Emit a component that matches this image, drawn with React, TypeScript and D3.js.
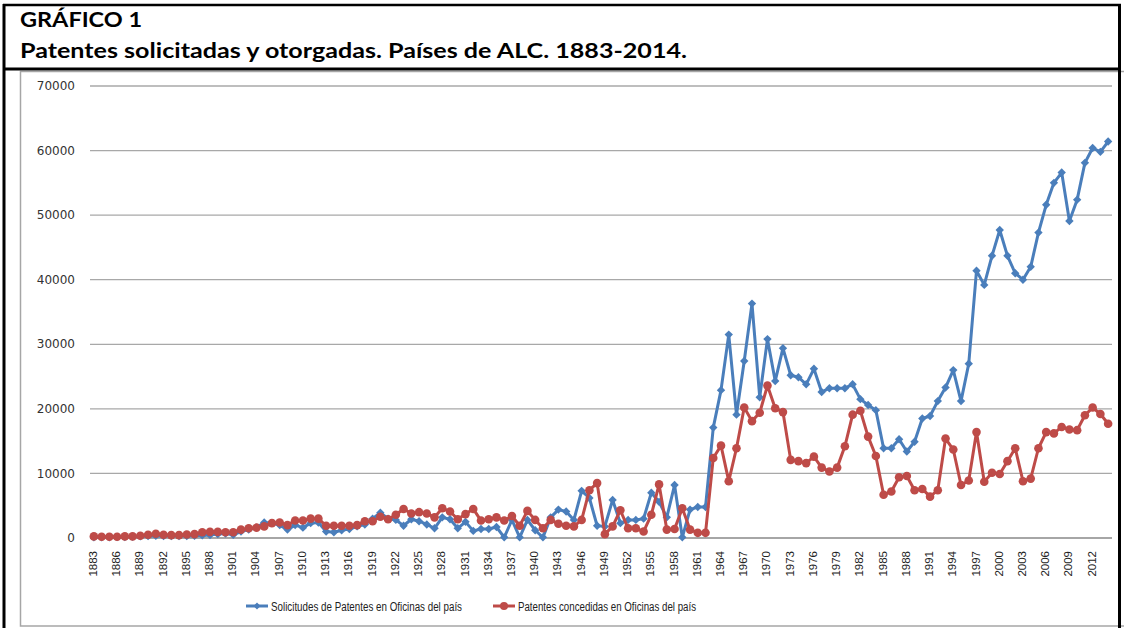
import * as d3 from 'd3'

// categories: one per year, 1883-2014
const years = d3.range(1883, 2015)

// Solicitudes de Patentes en Oficinas del país
const solicitudes = [
  100, 100, 100, 150, 150, 200, 250, 300, 350, 300, 300, 300, 300, 350, 400, 450, 600, 700,
  500, 1000, 1300, 1600, 2400, 2300, 2000, 1300, 2000, 1600, 2300, 2400, 1000, 900, 1200, 1400,
  1800, 2100,
  3000, 3900, 3000, 2800, 1900, 2900, 2600, 2100, 1500, 3200, 2900, 1500, 2500, 1100, 1400, 1400,
  1700, 100, 2800, 100, 2800, 1200, 100, 3200, 4400, 4100, 2800, 7300, 6200, 1900, 1800, 5900,
  2300, 2800, 2800, 3000, 7000, 5600, 3200, 8200, 100, 4400, 4800, 4800,
  17100, 22900, 31500, 19100, 27400, 36300, 21800, 30800, 24300, 29400, 25200, 24900, 23800,
  26200, 22600, 23200, 23200, 23200, 23800, 21500, 20600, 19800, 13900, 13900, 15300, 13400,
  14900, 18500,
  18900, 21200, 23300, 26000, 21200, 27000, 41400, 39200, 43700, 47700, 43700, 41000, 40000,
  42000, 47300, 51600, 55000, 56600, 49100, 52400, 58100, 60400, 59800, 61400,
]

// Patentes concedidas en Oficinas del país
const concedidas = [
  250, 200, 200, 200, 250, 250, 350, 500, 650, 500, 450, 450, 550, 600, 900, 950, 950, 900,
  900, 1300, 1500, 1600, 1800, 2300, 2400, 2000, 2700, 2700, 3000, 3000, 1900, 1900, 1900, 1900,
  2000, 2600,
  2600, 3300, 2900, 3600, 4500, 3800, 4000, 3800, 3200, 4600, 4100, 2900, 3700, 4500, 2700, 2900,
  3200, 2700, 3400, 1900, 4200, 2800, 1500, 2800, 2200, 1900, 1800, 2800, 7400, 8500, 600, 1800,
  4300, 1500, 1500, 1000, 3600, 8300, 1300, 1400, 4600, 1300, 800, 800,
  12400, 14300, 8800, 13900, 20200, 18100, 19400, 23600, 20100, 19500, 12100, 11900, 11600,
  12600, 10900, 10300, 10900, 14200, 19100, 19700, 15700, 12700, 6700, 7200, 9400, 9600, 7400,
  7600,
  6400, 7400, 15400, 13700, 8200, 8900, 16400, 8700, 10100, 9900, 11900, 13900, 8800, 9200,
  13900, 16400, 16200, 17200, 16800, 16700, 19000, 20200, 19200, 17700,
]

const yTicks = [0, 10000, 20000, 30000, 40000, 50000, 60000, 70000]
const xTickYears = years.filter((yr) => (yr - 1883) % 3 === 0)

const BLUE = '#4a7ebb'
const RED = '#be4b48'
const diamond = 'M0,-4.2L4.2,0L0,4.2L-4.2,0Z'

export default function App() {
  const W = 1124
  const H = 628

  const x = d3.scalePoint<number>().domain(years).range([90, 1112]).padding(0.5)
  const y = d3.scaleLinear().domain([0, 70000]).range([538, 86])

  const line = d3
    .line<number>()
    .x((_, i) => x(years[i])!)
    .y((d) => y(d))

  const axisFont = 'DejaVu Sans, sans-serif'

  return (
    <svg
      width={W}
      height={H}
      style={{ position: 'absolute', left: 0, top: 0, background: '#fff' }}
    >
      <rect x={0} y={0} width={W} height={H} fill="#fff" />

      {/* title block */}
      <text
        x={20}
        y={27}
        fontFamily="Lato, sans-serif"
        fontWeight="bold"
        fontSize={21.5}
        textLength={122}
        lengthAdjust="spacingAndGlyphs"
        fill="#000"
      >
        GRÁFICO 1
      </text>
      <text
        x={20}
        y={58}
        fontFamily="Lato, sans-serif"
        fontWeight="bold"
        fontSize={21.5}
        textLength={667}
        lengthAdjust="spacingAndGlyphs"
        fill="#000"
      >
        Patentes solicitadas y otorgadas. Países de ALC. 1883-2014.
      </text>

      {/* chart area frame */}
      <rect x={20.5} y={71.5} width={1120} height={554.5} fill="none" stroke="#a6a6a6" strokeWidth={1.5} />

      {/* gridlines + y labels */}
      {yTicks.map((t) => (
        <g key={t}>
          {t > 0 && (
            <line x1={90} x2={1112} y1={y(t)} y2={y(t)} stroke="#a8a8a8" strokeWidth={1.3} />
          )}
          <text
            x={75}
            y={y(t)}
            dy="0.35em"
            textAnchor="end"
            fontFamily={axisFont}
            fontSize={12}
            fill="#333"
          >
            {t}
          </text>
        </g>
      ))}
      <line x1={90} x2={1112} y1={y(0)} y2={y(0)} stroke="#888" strokeWidth={1.3} />

      {/* x labels */}
      {xTickYears.map((yr) => (
        <text
          key={yr}
          transform={`translate(${x(yr)! + 3},551) rotate(-90)`}
          textAnchor="end"
          fontFamily="Liberation Sans, Arial, sans-serif"
          fontSize={11.5}
          fill="#222"
        >
          {yr}
        </text>
      ))}

      {/* series: solicitudes */}
      <path d={line(solicitudes) ?? ''} fill="none" stroke={BLUE} strokeWidth={3} strokeLinejoin="round" />
      {solicitudes.map((v, i) => (
        <path key={'s' + i} d={diamond} transform={`translate(${x(years[i])},${y(v)})`} fill={BLUE} />
      ))}

      {/* series: concedidas */}
      <path d={line(concedidas) ?? ''} fill="none" stroke={RED} strokeWidth={3} strokeLinejoin="round" />
      {concedidas.map((v, i) => (
        <circle key={'c' + i} cx={x(years[i])} cy={y(v)} r={4.3} fill={RED} />
      ))}

      {/* legend */}
      <g fontFamily="Liberation Sans, Arial, sans-serif" fontSize={12.5} fill="#222">
        <line x1={246} x2={268} y1={606} y2={606} stroke={BLUE} strokeWidth={3} />
        <path d="M0,-3.5L3.5,0L0,3.5L-3.5,0Z" transform="translate(257,606)" fill={BLUE} />
        <text x={271} y={610.5} textLength={191} lengthAdjust="spacingAndGlyphs">
          Solicitudes de Patentes en Oficinas del país
        </text>
        <line x1={493} x2={515} y1={606} y2={606} stroke={RED} strokeWidth={3} />
        <circle cx={504} cy={606} r={4} fill={RED} />
        <text x={518} y={610.5} textLength={178} lengthAdjust="spacingAndGlyphs">
          Patentes concedidas en Oficinas del país
        </text>
      </g>

      {/* outer black frame */}
      <line x1={3} x2={1121} y1={5} y2={5} stroke="#000" strokeWidth={2.5} />
      <line x1={4} x2={4} y1={4} y2={H} stroke="#000" strokeWidth={3} />
      <line x1={1119.5} x2={1119.5} y1={4} y2={H} stroke="#000" strokeWidth={3} />
      <line x1={3} x2={1121} y1={69} y2={69} stroke="#000" strokeWidth={3} />
    </svg>
  )
}
